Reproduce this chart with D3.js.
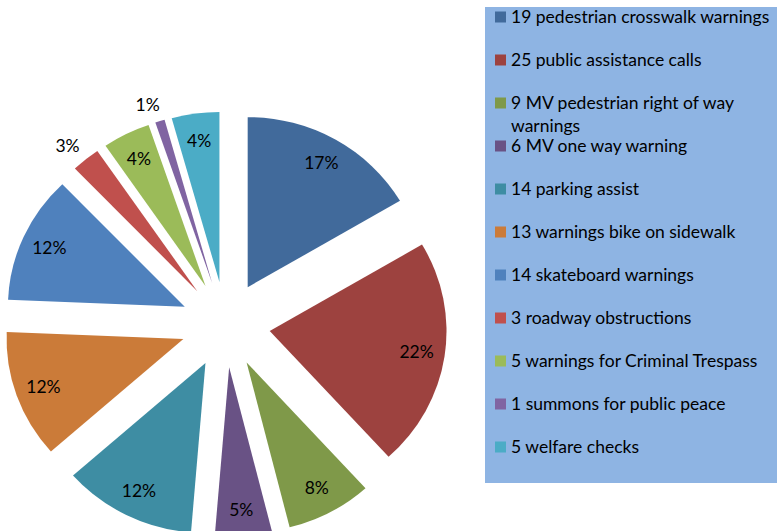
<!DOCTYPE html>
<html>
<head>
<meta charset="utf-8">
<script src="https://cdn.jsdelivr.net/npm/d3@7"></script>
<style>
  body { margin: 0; background: #fff; }
  svg { display: block; font-family: Lato, "Liberation Sans", sans-serif; }
</style>
</head>
<body>
<div id="chart"></div>
<script>
// Data
const labels = [
  "19 pedestrian crosswalk warnings",
  "25 public assistance calls",
  "9 MV pedestrian right of way warnings",
  "6 MV one way warning",
  "14 parking assist",
  "13 warnings bike on sidewalk",
  "14 skateboard warnings",
  "3 roadway obstructions",
  "5 warnings for Criminal Trespass",
  "1 summons for public peace",
  "5 welfare checks"
];
// slice sizes (the bike slice is drawn as 12%, same as the 14s)
const values = [19, 25, 9, 6, 14, 14, 14, 3, 5, 1, 5];
const colors = [
  "#416a9b", "#9d423f", "#7f9949", "#695285", "#3e8da3", "#cb7b39",
  "#4f81bd", "#c0504d", "#9bbb59", "#8064a2", "#4bacc6"
];

const width = 777, height = 531;
// the original pie is a little wider than tall
const cx = 225.5, cy = 324.5, radius = 170, explode = 43, sx = 1.04;

const svg = d3.select("#chart")
  .append("svg")
  .attr("width", width)
  .attr("height", height);

const total = d3.sum(values);
const pie = d3.pie().sort(null).value(d => d);
const arcs = pie(values);
const arc = d3.arc().innerRadius(0).outerRadius(radius);

// unit vector along slice bisector (d3 angles: 0 = up, clockwise)
const dir = d => {
  const a = (d.startAngle + d.endAngle) / 2;
  return [Math.sin(a), -Math.cos(a)];
};
const thin = d => (d.endAngle - d.startAngle) < 0.2;

const g = svg.append("g").attr("transform", `translate(${cx},${cy})`);

g.selectAll(".slice")
  .data(arcs)
  .enter()
  .append("path")
  .attr("class", "slice")
  .attr("transform", d => {
    const [ux, uy] = dir(d);
    return `translate(${ux * explode * sx},${uy * explode}) scale(${sx},1)`;
  })
  .attr("d", arc)
  .attr("fill", (d, i) => colors[i]);

// percent labels: inside for wide slices, outside for thin ones
const labelPos = d => {
  const [ux, uy] = dir(d);
  const k = thin(d) ? 1.1 : 0.84;
  let x = ux * (explode + radius * k) * sx;
  const y = uy * (explode + radius * k);
  if (thin(d)) x += Math.sign(ux) * 7;
  return [x, y];
};

g.selectAll(".pct")
  .data(arcs)
  .enter()
  .append("text")
  .attr("class", "pct")
  .attr("x", d => labelPos(d)[0])
  .attr("y", d => labelPos(d)[1])
  .attr("text-anchor", "middle")
  .attr("dy", "0.35em")
  .style("font-size", "17.5px")
  .style("fill", "#000")
  .text(d => Math.round(d.value / total * 100) + "%");

// === LEGEND ===
const legX = 485, legY = 7, legH = 476, rowH = 43, maxW = 292;
const legend = svg.append("g");

legend.append("rect")
  .attr("x", legX)
  .attr("y", legY)
  .attr("width", width - legX + 2)
  .attr("height", legH)
  .attr("fill", "#8eb4e3");

const items = legend.selectAll(".item")
  .data(labels)
  .enter()
  .append("g")
  .attr("class", "item")
  .attr("transform", (d, i) => `translate(${legX},${17 + i * rowH})`);

items.append("rect")
  .attr("x", 10)
  .attr("y", -5.5)
  .attr("width", 11)
  .attr("height", 11)
  .attr("fill", (d, i) => colors[i]);

items.append("text")
  .attr("x", 26)
  .attr("dy", "0.35em")
  .style("font-size", "17.5px")
  .style("fill", "#000")
  .each(function (d) {
    // simple word wrap
    const t = d3.select(this);
    const words = d.split(" ");
    let line = [];
    let ts = t.append("tspan").attr("x", 26);
    words.forEach(w => {
      line.push(w);
      ts.text(line.join(" "));
      if (ts.node().getComputedTextLength() > maxW - 26 && line.length > 1) {
        line.pop();
        ts.text(line.join(" "));
        line = [w];
        ts = t.append("tspan").attr("x", 26).attr("dy", "23px").text(w);
      }
    });
  });
</script>
</body>
</html>
